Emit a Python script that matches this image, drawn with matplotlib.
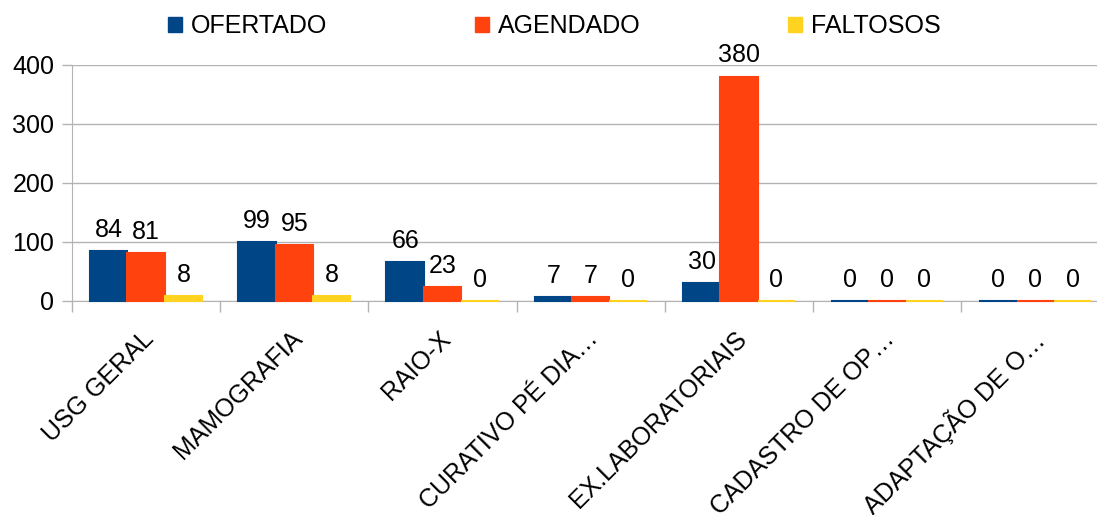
import matplotlib
matplotlib.use("Agg")
import matplotlib.pyplot as plt
from matplotlib.patches import Patch
import numpy as np

categories = ["USG GERAL", "MAMOGRAFIA", "RAIO-X", "CURATIVO PÉ DIA…",
              "EX.LABORATORIAIS", "CADASTRO DE OP…", "ADAPTAÇÃO DE O…"]
series_names = ["OFERTADO", "AGENDADO", "FALTOSOS"]
ofertado = [84, 99, 66, 7, 30, 0, 0]
agendado = [81, 95, 23, 7, 380, 0, 0]
faltosos = [8, 8, 0, 0, 0, 0, 0]
colors = ["#004586", "#ff420e", "#ffd320"]
yticks = [0, 100, 200, 300, 400]

plt.rcParams['font.family'] = ['Liberation Sans', 'DejaVu Sans']
FS = 18
GRID = "#b3b3b3"

fig = plt.figure(figsize=(10.97, 5.15), dpi=100)
W, H = 1097, 515
left_px, right_px, top_px, bot_px = 72.0, 72.0 + 7 * 148.2, 64.7, 300.7
ax = fig.add_axes([left_px / W, 1 - bot_px / H, (right_px - left_px) / W, (bot_px - top_px) / H])

x = np.arange(len(categories))
bw = 0.252
data = [ofertado, agendado, faltosos]
for i, (vals, c) in enumerate(zip(data, colors)):
    pos = x + (i - 1) * bw
    ax.bar(pos, vals, width=bw, color=c, edgecolor=c, linewidth=1.5, zorder=3, clip_on=False)
    for px_, v in zip(pos, vals):
        ax.annotate(str(v), (px_, v), xytext=(0, 6.5), textcoords="offset points",
                    ha="center", va="bottom", fontsize=FS, color="black", zorder=4)

ax.set_xlim(-0.5, len(categories) - 0.5)
ax.set_ylim(0, 400)
ax.set_yticks(yticks)
ax.yaxis.grid(True, color=GRID, linewidth=1.0, zorder=0)
ax.set_axisbelow(True)
ax.tick_params(axis='y', length=7.2, width=1.0, color=GRID, labelsize=FS, pad=5.5)

ax.set_xticks(np.arange(len(categories) + 1) - 0.5)
ax.set_xticklabels([])
ax.tick_params(axis='x', which='major', length=8, width=1.0, color=GRID, direction='out')
ax.set_xticks(x - 0.03, minor=True)
ax.set_xticklabels(categories, minor=True, rotation=45, ha='right', rotation_mode='anchor', fontsize=FS)
ax.tick_params(axis='x', which='minor', length=0, pad=18.5)

for s in ['top', 'right']:
    ax.spines[s].set_visible(False)
ax.spines['left'].set_color(GRID)
ax.spines['bottom'].set_color(GRID)

handles = [Patch(facecolor=c, edgecolor=c) for c in colors]
fig.legend(handles, series_names, loc='center', bbox_to_anchor=(0.5055, 1 - 26 / H), ncol=3,
           frameon=False, fontsize=FS, handlelength=0.56, handleheight=0.56,
           handletextpad=0.36, columnspacing=5.9, borderpad=0, borderaxespad=0)

fig.savefig("out.png", dpi=100)
